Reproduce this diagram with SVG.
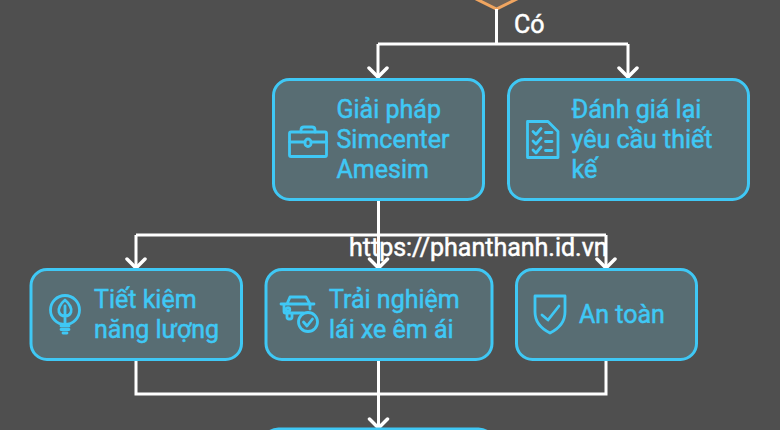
<svg xmlns="http://www.w3.org/2000/svg" width="780" height="430" viewBox="0 0 780 430">
<style>
.n{fill:#586d73;stroke:#3fc8f5;stroke-width:3}
.t{font-family:Roboto,"Liberation Sans",sans-serif;font-size:25px;fill:#3fc8f5;stroke:#3fc8f5;stroke-width:.5}
.w{font-family:Roboto,"Liberation Sans",sans-serif;font-size:25px;fill:#fff;stroke:#fff;stroke-width:.5}
.i{fill:none;stroke:#3fc8f5;stroke-width:2.8;stroke-linejoin:round;stroke-linecap:round}
.c{fill:none;stroke:#fff;stroke-width:3}
.h{fill:none;stroke:#fff;stroke-width:3.500;stroke-linecap:round}
</style>
<rect width="780" height="430" fill="#4f4f4f"/>
<g id="decision"><path d="M470,-4 L496.500,9 L523,-4" fill="#6e6257" stroke="#f0a560" stroke-width="3"/></g>
<g id="connectors">
<path class="c" d="M496.500,9V44M378,44H628M378,44V78M628,44V78"/>
<path class="c" d="M378.500,200V268M136,235H606M136,235V268M606,235V268"/>
<path class="c" d="M136,360V394H606V360M378.500,360V428"/>
<path class="h" d="M369,68L378,77L387,68M619,68L628,77L637,68M127,259L136,268L145,259M369.500,259L378.500,268L387.500,259M597,259L606,268L615,259M369.500,419L378.500,428L387.500,419"/>
</g>
<g id="giai-phap">
<rect class="n" x="273.500" y="79.500" width="210" height="120" rx="16"/>
<g class="i"><rect x="289.500" y="132" width="37" height="24.500" rx="1.500"/><path d="M289.500,142H305M311,142H326.500M301,132V130Q301,127 304,127H312Q315,127 315,130V132"/><rect x="305" y="139" width="6" height="7.500" rx="3"/></g>
<text class="t"><tspan x="336.500" y="118">Giải pháp</tspan><tspan x="336.500" y="148">Simcenter</tspan><tspan x="336.500" y="178">Amesim</tspan></text>
</g>
<g id="danh-gia">
<rect class="n" x="508.500" y="79.500" width="240" height="120" rx="16"/>
<g class="i"><path d="M527.500,121.500H548L558,131.500V157.500H527.500Z"/><path d="M533,131.500L536,134.500L541,128.500M533,141L536,144L541,138M533,150L536,153L541,147M545.500,132.500H552M545.500,141.500H552M545.500,150.500H552"/></g>
<text class="t"><tspan x="571.500" y="118">Đánh giá lại</tspan><tspan x="571.500" y="148">yêu cầu thiết</tspan><tspan x="571.500" y="178">kế</tspan></text>
</g>
<g id="tiet-kiem">
<rect class="n" x="31" y="269.500" width="210.500" height="90" rx="16"/>
<g class="i"><circle cx="65" cy="310" r="14.500"/><path d="M65,300C60,304 58,309 59,312C60,315 62,316 65,316C68,316 70,315 71,312C72,309 70,304 65,300ZM65,306V325M61,326H69M61,329.500H69M63,333H67"/></g>
<text class="t"><tspan x="94" y="308">Tiết kiệm</tspan><tspan x="94" y="338">năng lượng</tspan></text>
</g>
<g id="trai-nghiem">
<rect class="n" x="266" y="269.500" width="226" height="90" rx="16"/>
<g class="i"><path d="M287,304L290,297H306L310,304M281,304H314M284,304V312Q284,313 285,313H303M287,313V317Q287,319 289,319H290Q292,319 292,317V313M310,304V309"/><circle cx="288" cy="309.500" r="1.800"/><circle cx="308" cy="322" r="9.500"/><path d="M303.500,322L307,326L312.500,319"/></g>
<text class="t"><tspan x="329" y="308">Trải nghiệm</tspan><tspan x="329" y="338">lái xe êm ái</tspan></text>
</g>
<g id="an-toan">
<rect class="n" x="516.500" y="269.500" width="180" height="90" rx="16"/>
<g class="i"><path d="M535,296H565V312C565,322 558,329 550,333C542,329 535,322 535,312Z"/><path d="M542,315L548,320L559,306"/></g>
<text class="t" x="579" y="323">An toàn</text>
</g>
<g id="next"><rect class="n" x="262.500" y="429" width="232" height="40" rx="16"/></g>
<text class="w" x="514" y="33">Có</text>
<text class="w" x="349" y="256">https://phanthanh.id.vn</text>
</svg>
